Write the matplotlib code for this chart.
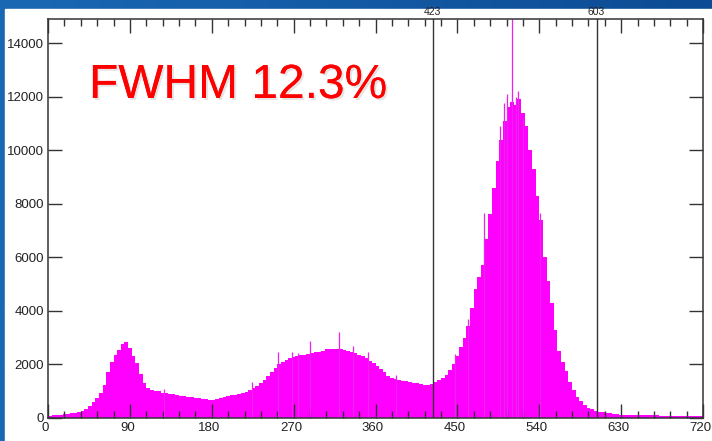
import matplotlib
matplotlib.use('Agg')
import matplotlib.pyplot as plt
import matplotlib.patheffects as pe
import matplotlib.transforms as mtrans
from matplotlib.colors import LinearSegmentedColormap
from matplotlib.patches import Rectangle
import numpy as np

plt.rcParams['font.family'] = ['Liberation Sans', 'DejaVu Sans']

# channel counts, 4 channels per bin (0..720)
bin_width = 4
counts = [
    60, 110, 120, 130, 140, 150, 170, 190, 210, 260,
    340, 460, 600, 760, 950, 1250, 1700, 2100, 2350, 2550,
    2750, 2820, 2600, 2300, 2050, 1650, 1300, 1120, 1060, 1020,
    990, 950, 930, 910, 880, 860, 840, 810, 790, 770,
    750, 730, 710, 700, 690, 680, 700, 750, 780, 810,
    850, 870, 900, 940, 980, 1050, 1110, 1200, 1300, 1420,
    1560, 1720, 1880, 2010, 2100, 2170, 2230, 2270, 2320, 2350,
    2370, 2390, 2420, 2450, 2480, 2520, 2560, 2570, 2580, 2570,
    2560, 2530, 2500, 2470, 2420, 2370, 2300, 2230, 2140, 2040,
    1940, 1830, 1720, 1560, 1480, 1440, 1410, 1390, 1370, 1340,
    1310, 1290, 1260, 1250, 1240, 1280, 1350, 1420, 1500, 1620,
    1800, 2000, 2300, 2650, 3000, 3450, 4100, 4800, 5250, 5700,
    6700, 7600, 8600, 9600, 10400, 11100, 11600, 11800, 11700, 11900,
    11400, 10900, 10000, 9300, 8300, 7400, 6000, 5100, 4300, 3300,
    2500, 2100, 1750, 1350, 1050, 800, 620, 480, 390, 320,
    280, 240, 220, 190, 170, 150, 140, 130, 120, 115,
    110, 108, 105, 102, 100, 98, 96, 94, 92, 90,
    88, 86, 85, 84, 83, 82, 81, 80, 80, 80,
]

# single-channel spikes sticking out of the envelope
spike_ch = [128, 224, 253, 268, 275, 288, 320, 335, 352, 383, 447, 462,
            479, 497, 501, 505, 510, 514, 517, 522, 541]
spike_val = [1075, 1360, 2480, 2480, 2440, 2860, 3230, 2700, 2480, 1590, 2390, 3700,
             7660, 10900, 11780, 12100, 15500, 12000, 12220, 11200, 7660]

markers = [423, 603]
fwhm_text = 'FWHM 12.3%'

W, H = 712, 441
fig = plt.figure(figsize=(W / 100, H / 100), dpi=100)

# blue frame with white panel
bg = fig.add_axes([0, 0, 1, 1], zorder=-10)
grad = np.linspace(0, 1, 256).reshape(1, -1)
cmap = LinearSegmentedColormap.from_list('frame', ['#1a68b4', '#0d4b94'])
bg.imshow(grad, extent=[0, 1, 0, 1], aspect='auto', cmap=cmap)
bg.add_patch(Rectangle((5 / W, 0), 1, (H - 9) / H, color='white'))
bg.set_xlim(0, 1)
bg.set_ylim(0, 1)
bg.axis('off')

ax = fig.add_axes([48 / W, 23 / H, 655 / W, 399 / H])
edges = np.arange(0, bin_width * len(counts) + 1, bin_width)
ax.fill_between(edges, np.append(counts, counts[-1]), step='post',
                color='#ff00ff', lw=0, antialiased=False)
ax.vlines(spike_ch, 0, spike_val, color='#ee22ee', lw=0.9)

for m in markers:
    ax.axvline(m, color='#333333', lw=1.0, zorder=3)
    ax.text(m, 1.004, str(m), transform=ax.get_xaxis_transform(),
            ha='center', va='bottom', fontsize=7.5, color='#222222')

ax.set_xlim(0, 720)
ax.set_ylim(0, 14900)
ax.set_xticks(np.arange(0, 721, 90))
ax.set_xticks(np.arange(0, 721, 18), minor=True)
ax.set_yticks(np.arange(0, 14001, 2000))
ax.tick_params(axis='both', which='major', direction='in', length=10, width=1,
               top=True, right=True, labelsize=9.5, labelcolor='#222222',
               color='#333333', pad=3)
ax.tick_params(axis='x', which='minor', direction='in', length=5, width=1,
               top=True, color='#333333')
for s in ax.spines.values():
    s.set_color('#333333')
    s.set_linewidth(1.1)

# x labels sit a little left of their ticks in the original
shift = mtrans.ScaledTranslation(-2.5 / 100, 0, fig.dpi_scale_trans)
for lab in ax.get_xticklabels():
    lab.set_transform(lab.get_transform() + shift)

fig.text(89 / W, (H - 98) / H, fwhm_text, fontsize=34.5, color='#ff0000',
         va='baseline', ha='left',
         path_effects=[pe.withSimplePatchShadow(offset=(1.5, -1.5), shadow_rgbFace='#aaaaaa', alpha=0.3),
                       pe.Normal()])

fig.savefig('out.png', dpi=100)
